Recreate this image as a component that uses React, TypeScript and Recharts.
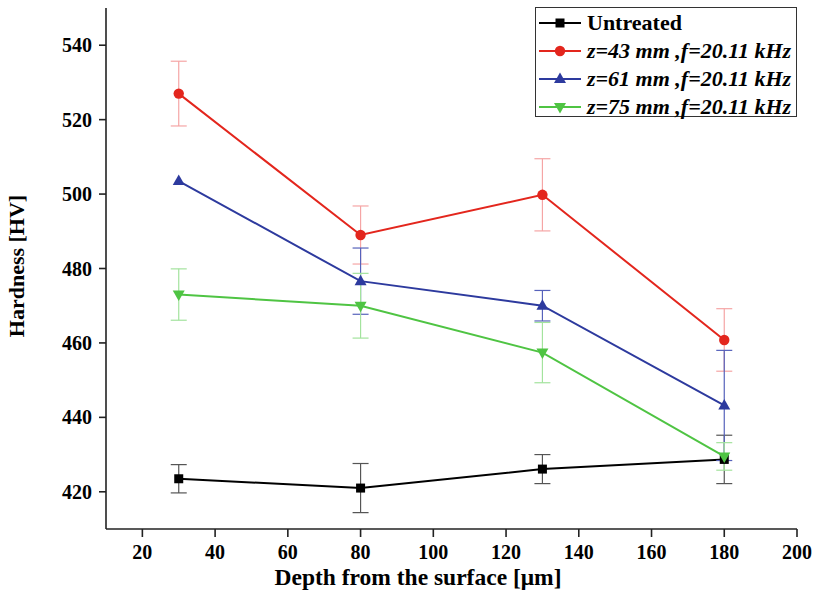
import React from "react";
import { LineChart, Line, XAxis, YAxis, ErrorBar, Legend } from "recharts";

const depth = [30, 80, 130, 180];

const untreated = [423.5, 421, 426.1, 428.7];
const untreatedErr = [3.8, 6.6, 3.9, 6.5];
const z43 = [527, 489, 499.8, 460.8];
const z43Err = [8.7, 7.8, 9.7, 8.4];
const z61 = [503.5, 476.6, 470, 443.2];
const z61Err = [0, 8.9, 4.1, 14.8];
const z75 = [473, 470, 457.4, 429.5];
const z75Err = [6.9, 8.7, 8.1, 3.7];

const xTicks = [20, 40, 60, 80, 100, 120, 140, 160, 180, 200];
const xMinor = [10, 30, 50, 70, 90, 110, 130, 150, 170, 190];
const yTicks = [420, 440, 460, 480, 500, 520, 540];
const yMinor = [430, 450, 470, 490, 510, 530];

const seriesNames = [
  "Untreated",
  "z=43 mm ,f=20.11 kHz",
  "z=61 mm ,f=20.11 kHz",
  "z=75 mm ,f=20.11 kHz",
];

const series = [
  { key: "untreated", err: "untreatedErr", color: "#000000", errColor: "#555555", shape: "square" },
  { key: "z43", err: "z43Err", color: "#e3261d", errColor: "#f5a5a5", shape: "circle" },
  { key: "z61", err: "z61Err", color: "#2d3a9e", errColor: "#5662bb", shape: "up" },
  { key: "z75", err: "z75Err", color: "#4fc443", errColor: "#a3e39d", shape: "down" },
];

const data = depth.map((d, i) => ({
  depth: d,
  untreated: untreated[i],
  untreatedErr: untreatedErr[i],
  z43: z43[i],
  z43Err: z43Err[i],
  z61: z61[i],
  z61Err: z61Err[i],
  z75: z75[i],
  z75Err: z75Err[i],
}));

const font = "Liberation Serif, Times New Roman, serif";

function Marker({ shape, cx, cy, color }: { shape: string; cx: number; cy: number; color: string }) {
  if (shape === "square") return <rect x={cx - 4.5} y={cy - 4.5} width={9} height={9} fill={color} />;
  if (shape === "circle") return <circle cx={cx} cy={cy} r={5.2} fill={color} />;
  if (shape === "up")
    return <polygon points={`${cx},${cy - 6.5} ${cx + 6},${cy + 4} ${cx - 6},${cy + 4}`} fill={color} />;
  return <polygon points={`${cx},${cy + 6.5} ${cx + 6},${cy - 4} ${cx - 6},${cy - 4}`} fill={color} />;
}

function LegendBox() {
  return (
    <div
      style={{
        border: "1px solid #333",
        background: "#fff",
        width: 262,
        height: 110,
        boxSizing: "border-box",
        paddingTop: 1,
        fontFamily: font,
        fontWeight: "bold",
        fontSize: 22,
      }}
    >
      {series.map((s, i) => (
        <div key={s.key} style={{ display: "flex", alignItems: "center", height: 28 }}>
          <svg width={50} height={20} style={{ flex: "none" }}>
            <line x1={3} y1={10} x2={45} y2={10} stroke={s.color} strokeWidth={2} />
            <Marker shape={s.shape} cx={24} cy={10} color={s.color} />
          </svg>
          <span style={{ fontStyle: i === 0 ? "normal" : "italic", whiteSpace: "nowrap", marginLeft: 1 }}>
            {seriesNames[i]}
          </span>
        </div>
      ))}
    </div>
  );
}

const tickStyle = { fontFamily: font, fontWeight: "bold", fontSize: 20, fill: "#000" };
const axisLine = { stroke: "#222", strokeWidth: 1.6 };

export default function App() {
  return (
    <div style={{ position: "absolute", left: 0, top: 0, background: "#fff" }}>
      <LineChart width={815} height={593} data={data} margin={{ top: 8, right: 18, bottom: 0, left: 0 }}>
        <XAxis
          type="number"
          dataKey="depth"
          domain={[10, 200]}
          ticks={xTicks}
          height={64}
          tickSize={8}
          tickMargin={8}
          tick={tickStyle}
          axisLine={axisLine}
          tickLine={axisLine}
          label={{
            content: () => (
              <text
                x={418}
                y={585}
                textAnchor="middle"
                style={{ fontFamily: font, fontWeight: "bold", fontSize: 23.5 }}
                fill="#000"
              >
                Depth from the surface [μm]
              </text>
            ),
          }}
        />
        <XAxis
          xAxisId="minor"
          type="number"
          domain={[10, 200]}
          ticks={xMinor}
          height={0}
          tickSize={4}
          tickFormatter={() => ""}
          axisLine={false}
          tickLine={axisLine}
        />
        <XAxis
          xAxisId="top"
          orientation="top"
          type="number"
          domain={[10, 200]}
          height={0}
          tick={false}
          tickLine={false}
          axisLine={axisLine}
        />
        <YAxis
          type="number"
          domain={[410, 550]}
          ticks={yTicks}
          width={106}
          tickSize={7}
          tickMargin={7}
          tick={tickStyle}
          axisLine={axisLine}
          tickLine={axisLine}
          label={{
            content: () => (
              <text
                x={16}
                y={266}
                textAnchor="middle"
                dominantBaseline="central"
                transform="rotate(-90 16 266)"
                style={{ fontFamily: font, fontWeight: "bold", fontSize: 22 }}
                fill="#000"
              >
                Hardness [HV]
              </text>
            ),
          }}
        />
        <YAxis
          yAxisId="minor"
          type="number"
          domain={[410, 550]}
          ticks={yMinor}
          width={0}
          tickSize={4}
          tickFormatter={() => ""}
          axisLine={false}
          tickLine={axisLine}
        />
        <YAxis
          yAxisId="right"
          orientation="right"
          type="number"
          domain={[410, 550]}
          width={0}
          tick={false}
          tickLine={false}
          axisLine={axisLine}
        />
        {series.map((s) => (
          <Line
            key={s.key}
            dataKey={s.key}
            stroke={s.color}
            strokeWidth={2}
            isAnimationActive={false}
            dot={(p: any) => <Marker key={`${s.key}-${p.index}`} shape={s.shape} cx={p.cx} cy={p.cy} color={s.color} />}
          >
            <ErrorBar dataKey={s.err} direction="y" width={8} stroke={s.errColor} strokeWidth={1.2} isAnimationActive={false} />
          </Line>
        ))}
        <Legend
          layout="vertical"
          align="center"
          verticalAlign="middle"
          content={() => <LegendBox />}
          wrapperStyle={{ position: "absolute", top: 7, left: 535, width: 262, height: 110 }}
        />
      </LineChart>
    </div>
  );
}
